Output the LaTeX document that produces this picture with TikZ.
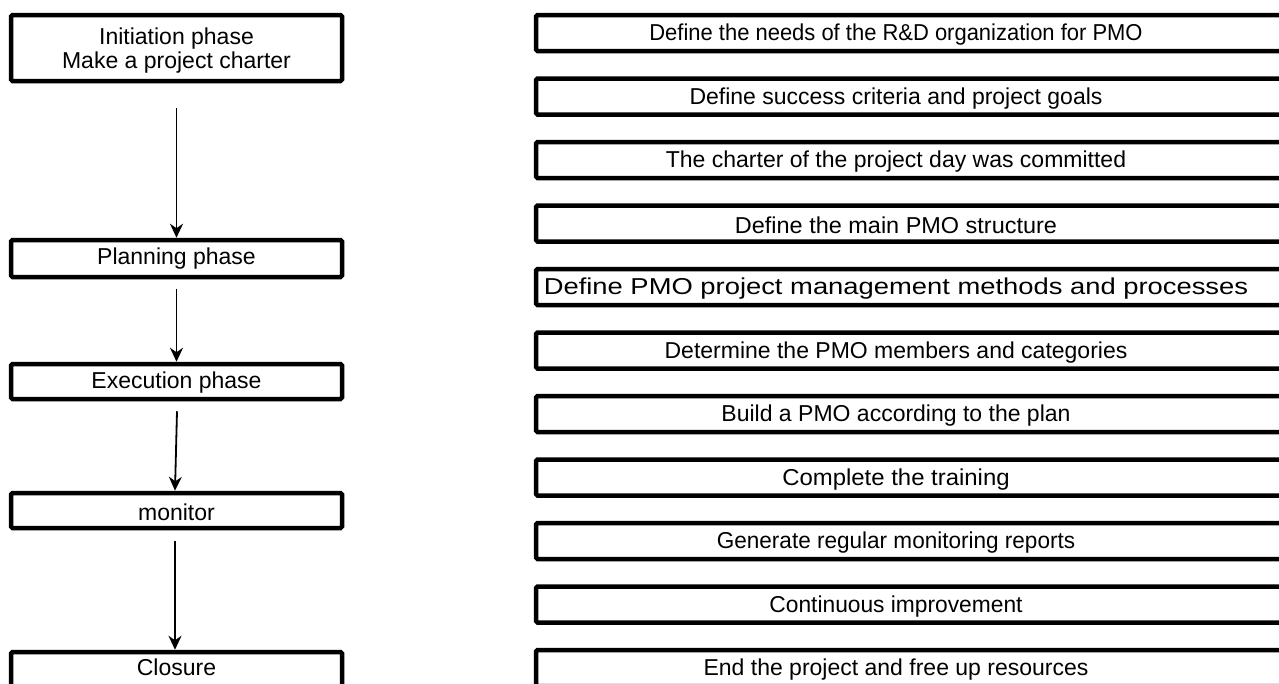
\documentclass[tikz,border=0pt]{standalone}
\usepackage{fontspec}
\setmainfont{Liberation Sans}
\usetikzlibrary{arrows.meta}
\tikzset{
  boxline/.style={draw=black, line width=4.5pt, rounded corners=1.5pt, fill=white},
  lbox/.style={boxline, minimum width=331pt, inner sep=0pt, align=center,
    font=\fontsize{23}{24.5}\selectfont},
  rtext/.style={inner sep=0pt, font=\fontsize{23}{25}\selectfont},
  flow/.style={line width=1.8pt, -{Stealth[length=14pt,width=13pt,inset=4.5pt]}}
}
\newcommand{\lowerby}[2]{\raisebox{-#1}[\height][\depth]{#2}}
\begin{document}
\begin{tikzpicture}[x=1pt,y=-1pt]
\useasboundingbox (0,0) rectangle (1279,683);
\clip (0,0) rectangle (1279,683);
% left column
\node[lbox, minimum height=66pt] (init) at (176.5,48) {\lowerby{2.5pt}{\shortstack{Initiation phase\\[0pt]Make a project charter}}};
\node[lbox, minimum height=37pt] (plan) at (176.5,258.5) {Planning phase};
\node[lbox, minimum height=35pt] (exec) at (176.5,381.5) {\lowerby{1.5pt}{Execution phase}};
\node[lbox, minimum height=35pt] (mon) at (176.5,510.5) {\lowerby{1.5pt}{monitor}};
\node[lbox, minimum height=38pt, text depth=10pt] (clos) at (176.5,671) {\lowerby{1.5pt}{Closure}};
% connectors
\draw[flow] ([yshift=-25pt]init.south) -- (plan.north);
\draw[flow] ([yshift=-10pt]plan.south) -- (exec.north);
\draw[flow] ([xshift=0.5pt,yshift=-10pt]exec.south) -- ([xshift=-1.5pt]mon.north);
\draw[flow] ([xshift=-1.5pt,yshift=-11pt]mon.south) -- ([xshift=-1.5pt]clos.north);
% right column
\foreach \i/\s/\t in {0/0.955/{Define the needs of the R\&D organization for PMO},
                   1/1.0/{Define success criteria and project goals},
                   2/1.0/{The charter of the project day was committed},
                   3/1.02/{Define the main PMO structure},
                   4/1.19/{Define PMO project management methods and processes},
                   5/1.0/{Determine the PMO members and categories},
                   6/1.0/{Build a PMO according to the plan},
                   7/1.04/{Complete the training},
                   8/0.98/{Generate regular monitoring reports},
                   9/0.99/{Continuous improvement},
                   10/1.0/{End the project and free up resources}}{
  \pgfmathsetmacro{\yc}{33+63.5*\i}
  \draw[boxline] (536,\yc-18) rectangle (1300,\yc+18);
  \node[rtext] (r\i) at (896,\yc+2) {\scalebox{\s}[1]{\t}};
}
\end{tikzpicture}
\end{document}
